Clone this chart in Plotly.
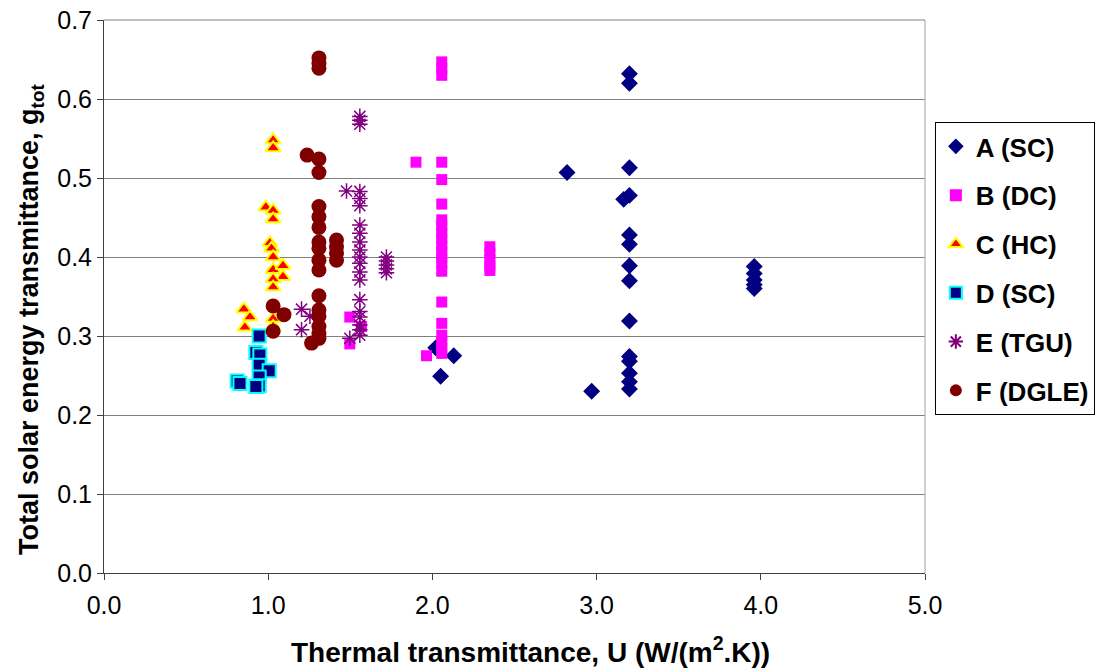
import plotly.graph_objects as go

# A (SC)
A_x = [3.2, 3.2, 3.2, 3.2, 3.165, 3.2, 3.2, 3.2, 3.2, 3.2, 3.2, 3.2, 3.2, 3.2, 3.2,
       2.82, 2.97, 2.02, 2.05, 2.13, 3.96, 3.96, 3.96, 3.96, 3.96]
A_y = [0.632, 0.620, 0.513, 0.478, 0.473, 0.428, 0.416, 0.389, 0.370, 0.319, 0.274, 0.268, 0.253, 0.242, 0.233,
       0.507, 0.230, 0.285, 0.249, 0.275, 0.388, 0.379, 0.371, 0.365, 0.360]

# B (DC)
B_x = [2.057] * 21 + [1.90, 1.964, 2.35, 2.35, 2.35, 2.35, 2.35, 1.497, 1.497, 1.568]
B_y = [0.647, 0.639, 0.630, 0.520, 0.498, 0.467, 0.447, 0.439, 0.431, 0.423, 0.415, 0.407, 0.399, 0.392,
       0.382, 0.343, 0.316, 0.301, 0.293, 0.285, 0.278,
       0.520, 0.275, 0.413, 0.405, 0.397, 0.389, 0.383, 0.324, 0.290, 0.312]

# C (HC)
C_x = [1.03, 1.03, 0.986, 1.03, 1.03, 1.01, 1.02, 1.03, 1.03, 1.09, 1.09, 1.03, 1.03, 0.852, 0.889, 0.858, 1.03, 1.03]
C_y = [0.548, 0.538, 0.463, 0.459, 0.448, 0.418, 0.411, 0.400, 0.384, 0.389, 0.375, 0.372, 0.362, 0.334, 0.324, 0.311, 0.322, 0.312]

# D (SC)
D_x = [0.945, 0.925, 0.949, 0.945, 1.006, 0.945, 0.811, 0.828, 0.945, 0.925]
D_y = [0.300, 0.279, 0.276, 0.263, 0.256, 0.248, 0.243, 0.240, 0.237, 0.236]

# E (TGU)
E_x = [1.558, 1.558, 1.558, 1.477, 1.558, 1.558, 1.558, 1.558, 1.558, 1.558, 1.558, 1.558, 1.558, 1.558, 1.558,
       1.558, 1.558, 1.558, 1.558, 1.558, 1.558, 1.497, 1.203, 1.254, 1.203, 1.72, 1.72, 1.72, 1.72, 1.72]
E_y = [0.578, 0.573, 0.568, 0.4835, 0.483, 0.474, 0.465, 0.4405, 0.430, 0.419, 0.409, 0.400, 0.392, 0.381, 0.371,
       0.346, 0.331, 0.324, 0.314, 0.308, 0.301, 0.297, 0.334, 0.325, 0.308, 0.400, 0.395, 0.390, 0.385, 0.380]

# F (DGLE)
F_x = [1.03, 1.03, 1.096, 1.237, 1.309, 1.309, 1.309, 1.309, 1.309, 1.309, 1.309, 1.309, 1.309, 1.309, 1.309, 1.309,
       1.416, 1.416, 1.416, 1.416, 1.309, 1.309, 1.309, 1.309, 1.309, 1.309, 1.264]
F_y = [0.338, 0.306, 0.327, 0.529, 0.652, 0.645, 0.639, 0.524, 0.507, 0.464, 0.451, 0.4375, 0.419, 0.411, 0.396, 0.3835,
       0.4215, 0.413, 0.405, 0.396, 0.351, 0.333, 0.325, 0.312, 0.303, 0.297, 0.291]

x_ticks = [0, 1, 2, 3, 4, 5]
y_ticks = [0.0, 0.1, 0.2, 0.3, 0.4, 0.5, 0.6, 0.7]

x_title = "<b>Thermal transmittance, U (W/(m<sup>2</sup>.K))</b>"
y_title = "<b>Total solar energy transmittance, g<sub>tot</sub></b>"

series = [
    ("A (SC)", A_x, A_y, dict(symbol="diamond", size=13, color="#000080", line=dict(width=0))),
    ("B (DC)", B_x, B_y, dict(symbol="square", size=11, color="#FF00FF", line=dict(width=0))),
    ("C (HC)", C_x, C_y, dict(symbol="triangle-up", size=13, color="#FF0000", line=dict(width=2, color="#FFFF00"))),
    ("D (SC)", D_x, D_y, dict(symbol="square", size=13, color="#000080", line=dict(width=2, color="#00FFFF"))),
    ("E (TGU)", E_x, E_y, dict(symbol="asterisk-open", size=13, color="#800080", line=dict(width=1.5, color="#800080"))),
    ("F (DGLE)", F_x, F_y, dict(symbol="circle", size=15, color="#800000", line=dict(width=0))),
]

fig = go.Figure()
for name, xs, ys, mk in series:
    fig.add_trace(go.Scatter(x=xs, y=ys, mode="markers", name=name, marker=mk,
                             legendgroup=name))

font_family = "Liberation Sans, Arial, sans-serif"

fig.update_layout(
    width=1103, height=670,
    margin=dict(l=104, r=178, t=20, b=97, autoexpand=False),
    paper_bgcolor="white", plot_bgcolor="white",
    font=dict(family=font_family, size=25, color="black"),
    showlegend=True,
    legend=dict(
        x=1.012, y=0.8156, xanchor="left", yanchor="top",
        bordercolor="black", borderwidth=1, bgcolor="white",
        font=dict(family=font_family, size=26, color="black", weight="bold"),
        tracegroupgap=12, traceorder="grouped", itemsizing="constant",
    ),
    xaxis=dict(
        range=[0, 5], tickvals=x_ticks, ticktext=["%.1f" % v for v in x_ticks],
        showgrid=False, zeroline=False, automargin=False,
        showline=True, linecolor="#404040", linewidth=1, mirror=False,
        ticks="outside", ticklen=6, tickcolor="#404040",
        tickfont=dict(size=25), ticklabelstandoff=4, ticklabeloverflow="allow",
    ),
    yaxis=dict(
        range=[0, 0.7], tickvals=y_ticks, ticktext=["%.1f" % v for v in y_ticks],
        showgrid=True, gridcolor="#808080", gridwidth=1, zeroline=False, automargin=False,
        showline=True, linecolor="#404040", linewidth=1,
        ticks="outside", ticklen=6, tickcolor="#404040",
        tickfont=dict(size=25), ticklabeloverflow="allow",
    ),
    annotations=[
        dict(text=x_title, xref="paper", yref="paper", x=0.520, y=-0.139,
             xanchor="center", yanchor="middle", showarrow=False,
             font=dict(family=font_family, size=28, color="black")),
        dict(text=y_title, xref="paper", yref="paper", x=-0.0889, y=0.4575,
             xanchor="center", yanchor="middle", showarrow=False, textangle=-90,
             font=dict(family=font_family, size=27, color="black")),
    ],
)

# top gridline (at range edge) and right border of plot area
fig.add_shape(type="line", xref="paper", yref="paper", x0=0, x1=1, y0=1, y1=1,
              line=dict(color="#808080", width=1), layer="below")
fig.add_shape(type="line", xref="paper", yref="paper", x0=1, x1=1, y0=0, y1=1,
              line=dict(color="#A0A0A0", width=1))

fig.write_html("out.html", config={"displayModeBar": False},
               post_script="document.body.style.margin='0';document.body.style.overflow='hidden';")
